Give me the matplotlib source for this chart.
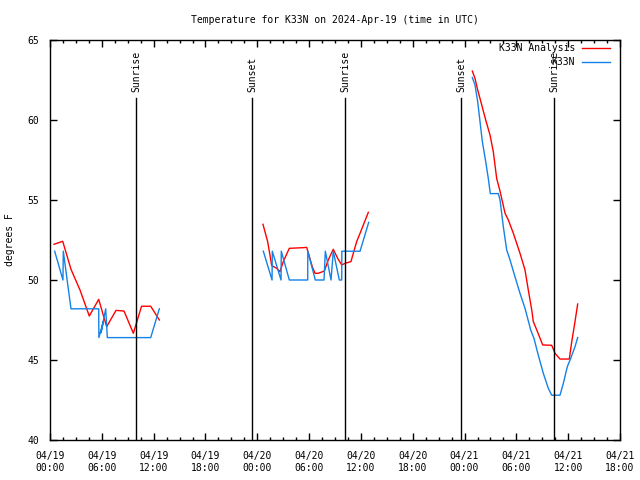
import numpy as np
import pandas as pd
import matplotlib
matplotlib.use("Agg")
import matplotlib.pyplot as plt
import matplotlib.dates as mdates
from matplotlib.lines import Line2D

# ---- data (hours since 2024-04-19 00:00 UTC, degrees F) ----
start = pd.Timestamp("2024-04-19 00:00")

analysis_h1 = [0.46, 1.16, 1.47, 2.43, 3.47, 4.55, 5.64, 6.56, 7.64, 8.57, 9.65, 10.6, 11.66, 12.66]
analysis_v1 = [52.23, 52.36, 52.42, 50.67, 49.38, 47.75, 48.79, 47.08, 48.1, 48.06, 46.67, 48.36, 48.36, 47.5]

analysis_h2 = [24.66, 25.2, 25.47, 25.67, 26.25, 26.63, 27.01, 27.71, 29.33, 29.72, 30.37, 30.69,
               31.07, 31.76, 32.22, 32.8, 33.31, 33.78, 34.16, 34.85, 35.12, 35.51, 35.9, 36.28, 36.86]
analysis_v2 = [53.48, 52.4, 51.56, 50.9, 50.73, 50.52, 51.15, 51.98, 52.02, 52.04, 50.83, 50.42,
               50.42, 50.56, 51.25, 51.92, 51.35, 50.94, 51.04, 51.15, 51.67, 52.4, 52.92, 53.44, 54.23]

analysis_h3 = [48.9, 49.21, 49.52, 49.99, 50.45, 50.95, 51.33, 51.72, 52.11, 52.69, 53.07, 53.65,
               54.42, 55.0, 55.38, 55.78, 55.96, 56.36, 57.05, 58.09, 58.48, 59.05, 60.13, 60.41,
               60.79, 61.1]
analysis_v3 = [63.06, 62.6, 61.88, 60.94, 60.0, 59.06, 58.02, 56.35, 55.55, 54.17, 53.75, 52.92,
               51.67, 50.63, 49.38, 48.13, 47.4, 46.88, 45.94, 45.92, 45.42, 45.06, 45.06, 46.14,
               47.4, 48.5]

obs_h1 = [0.54, 1.5, 1.54, 2.43, 5.64, 5.66, 6.17, 5.9, 6.45, 6.64, 11.66, 12.66]
obs_v1 = [51.8, 50.0, 51.8, 48.2, 48.2, 46.4, 47.4, 46.7, 48.2, 46.4, 46.4, 48.2]

obs_h2 = [24.7, 25.71, 25.74, 26.75, 26.78, 27.71, 29.84, 29.85, 30.72, 31.73, 31.88, 32.54,
          32.8, 33.5, 33.78, 33.79, 35.9, 36.9]
obs_v2 = [51.8, 50.0, 51.8, 50.0, 51.8, 50.0, 50.0, 51.8, 50.0, 50.0, 51.8, 50.0,
          51.8, 50.0, 50.0, 51.8, 51.8, 53.6]

obs_h3 = [48.9, 49.21, 49.52, 49.79, 50.06, 50.45, 50.75, 50.98, 51.91, 52.11, 52.49, 52.88,
          53.27, 53.84, 54.42, 55.0, 55.66, 56.04, 56.54, 57.12, 57.7, 58.09, 59.05, 59.44,
          59.9, 60.29, 60.79, 61.1]
obs_v3 = [62.65, 62.19, 61.15, 59.9, 58.65, 57.4, 56.35, 55.4, 55.4, 55.0, 53.33, 51.88,
          51.25, 50.2, 49.17, 48.23, 46.88, 46.35, 45.3, 44.17, 43.23, 42.8, 42.8, 43.54,
          44.58, 45.1, 45.83, 46.4]

event_h = [9.96, 23.39, 34.16, 47.59, 58.36]
event_labels = ["Sunrise", "Sunset", "Sunrise", "Sunset", "Sunrise"]

title = "Temperature for K33N on 2024-Apr-19 (time in UTC)"
ylabel = "degrees F"
series_names = ["K33N Analysis", "K33N"]
ytick_vals = [40, 45, 50, 55, 60, 65]

RED = "#ff0000"
BLUE = "#1482e6"
FONT = "DejaVu Sans Mono"
FS = 7

def to_t(hours):
    return [start + pd.Timedelta(hours=h) for h in hours]

fig = plt.figure(figsize=(6.4, 4.8), dpi=100)
ax = fig.add_axes([50/640, 1-440/480, 570/640, 400/480])

for h, v in [(analysis_h1, analysis_v1), (analysis_h2, analysis_v2), (analysis_h3, analysis_v3)]:
    ax.plot(to_t(h), v, color=RED, lw=1.0)
for h, v in [(obs_h1, obs_v1), (obs_h2, obs_v2), (obs_h3, obs_v3)]:
    ax.plot(to_t(h), v, color=BLUE, lw=1.0)

for h, lab in zip(event_h, event_labels):
    t = start + pd.Timedelta(hours=h)
    ax.plot([t, t], [40, 61.4], color="black", lw=1.0)
    ax.text(t, 61.75, lab, rotation=90, ha="center", va="bottom",
            family=FONT, fontsize=FS)

ax.set_xlim(start, start + pd.Timedelta(hours=66))
ax.set_ylim(40, 65)
ax.set_yticks(ytick_vals)
ax.xaxis.set_major_locator(mdates.HourLocator(byhour=[0, 6, 12, 18]))
ax.xaxis.set_major_formatter(mdates.DateFormatter("%m/%d\n%H:%M"))
ax.xaxis.set_minor_locator(mdates.MinuteLocator(byminute=[0, 30], interval=1))
ax.xaxis.set_minor_locator(matplotlib.ticker.FixedLocator(
    [mdates.date2num(start + pd.Timedelta(minutes=90 * k)) for k in range(0, 45)]))

ax.tick_params(which="major", direction="in", length=5, width=1, top=True, right=True,
               labelsize=FS, pad=8)
ax.tick_params(which="minor", direction="in", length=2.5, width=1, top=True, bottom=True)
for lbl in ax.get_xticklabels() + ax.get_yticklabels():
    lbl.set_family(FONT)
for s in ax.spines.values():
    s.set_linewidth(1.0)

# legend (manual, gnuplot-style right-aligned)
ax.text(0.921, 0.980, series_names[0], transform=ax.transAxes, ha="right", va="center",
        family=FONT, fontsize=FS)
ax.text(0.921, 0.945, series_names[1], transform=ax.transAxes, ha="right", va="center",
        family=FONT, fontsize=FS)
ax.add_line(Line2D([0.933, 0.982], [0.980, 0.980], transform=ax.transAxes, color=RED, lw=1.0))
ax.add_line(Line2D([0.933, 0.982], [0.945, 0.945], transform=ax.transAxes, color=BLUE, lw=1.0))

fig.text(335/640, 1-20/480, title, ha="center", va="center", family=FONT, fontsize=FS)
fig.text(10/640, 0.5, ylabel, rotation=90, ha="center", va="center", family=FONT, fontsize=FS)

fig.savefig("out.png", dpi=100)
